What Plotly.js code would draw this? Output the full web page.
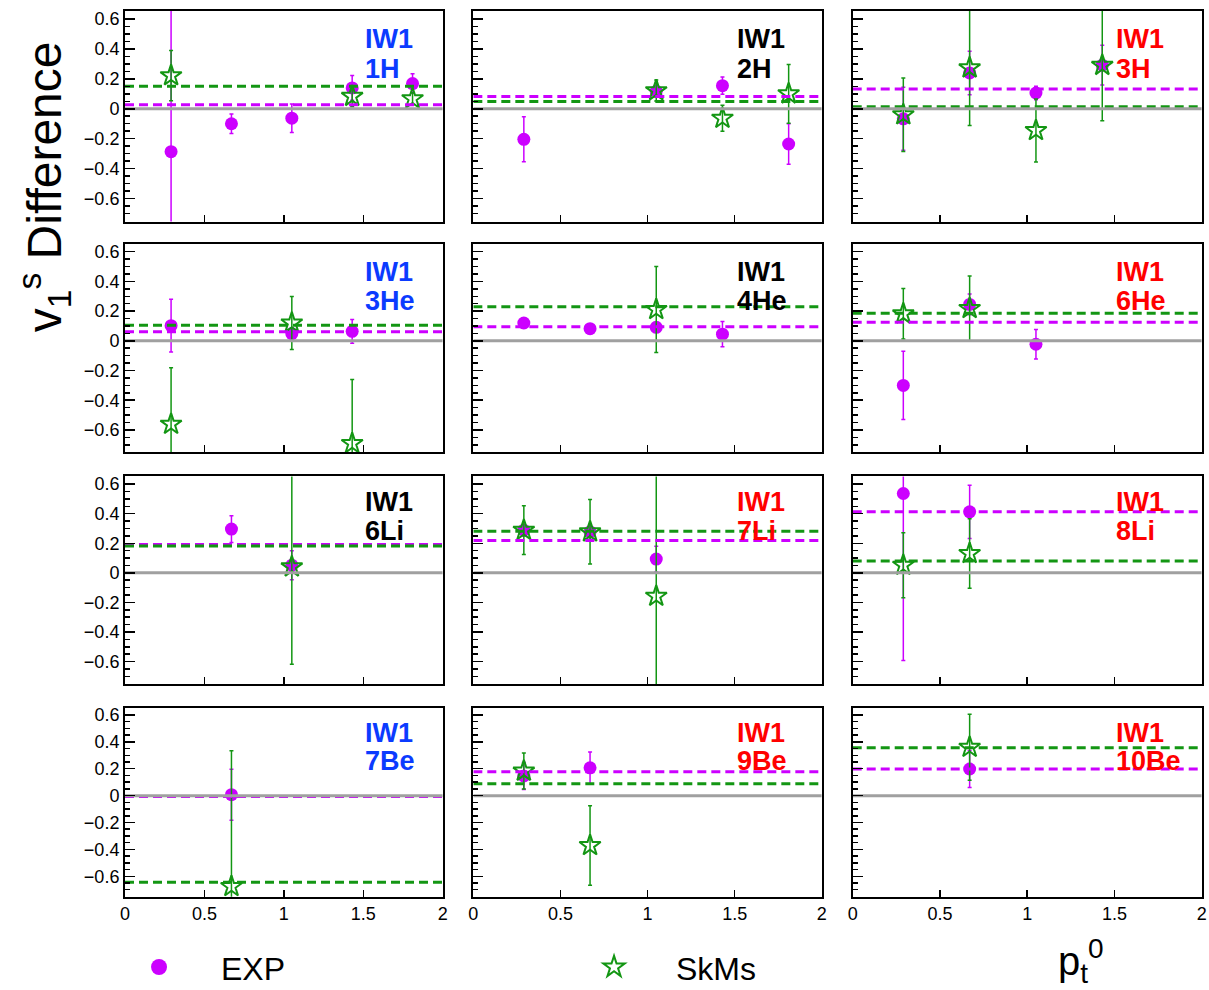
<!DOCTYPE html>
<html><head><meta charset="utf-8">
<script src="https://cdn.plot.ly/plotly-3.0.1.min.js"></script>
<style>html,body{margin:0;padding:0;background:#fff}#chart{width:1209px;height:990px}</style>
</head><body><div id="chart"></div>
<script>
// ---------------- data ----------------
const particles = ['1H','2H','3H','3He','4He','6He','6Li','7Li','8Li','7Be','9Be','10Be'];
const modelTag = 'IW1';
const seriesNames = ['EXP', 'SkMs'];
const ptBins = [0.29, 0.67, 1.05, 1.43, 1.81];
const expValues = [
  [-0.286, -0.100, -0.063, 0.139, 0.168],
  [-0.204, null, 0.116, 0.154, -0.235],
  [-0.067, 0.239, 0.105, 0.291, null],
  [0.102, null, 0.048, 0.064, null],
  [0.120, 0.082, 0.091, 0.045, null],
  [-0.300, 0.245, -0.023, null, null],
  [null, 0.296, 0.052, null, null],
  [0.289, 0.278, 0.093, null, null],
  [0.537, 0.413, null, null, null],
  [null, 0.007, null, null, null],
  [0.146, 0.207, null, null, null],
  [null, 0.198, null, null, null]
];
const expErrors = [
  [1.00, 0.065, 0.095, 0.083, 0.065],
  [0.150, null, 0.040, 0.058, 0.135],
  [0.210, 0.145, 0.045, 0.132, null],
  [0.178, null, 0.040, 0.080, null],
  [0.020, 0.020, 0.030, 0.085, null],
  [0.230, 0.070, 0.099, null, null],
  [null, 0.090, 0.098, null, null],
  [0.040, 0.050, 0.087, null, null],
  [1.130, 0.180, null, null, null],
  [null, 0.190, null, null, null],
  [0.100, 0.118, null, null, null],
  [null, 0.137, null, null, null]
];
const skmsValues = [
  [0.221, null, null, 0.083, 0.067],
  [null, null, 0.121, -0.063, 0.100],
  [-0.040, 0.273, -0.145, 0.290, null],
  [-0.561, null, 0.120, -0.691, null],
  [null, null, 0.211, null, null],
  [0.182, 0.218, null, null, null],
  [null, null, 0.041, null, null],
  [0.289, 0.278, -0.158, null, null],
  [0.052, 0.131, null, null, null],
  [null, -0.676, null, null, null],
  [0.183, -0.371, null, null, null],
  [null, 0.360, null, null, null]
];
const skmsErrors = [
  [0.168, null, null, 0.070, 0.040],
  [null, null, 0.070, 0.087, 0.196],
  [0.245, 0.385, 0.210, 0.370, null],
  [0.380, null, 0.178, 0.430, null],
  [null, null, 0.290, null, null],
  [0.170, 0.218, null, null, null],
  [null, null, 0.660, null, null],
  [0.165, 0.218, 0.850, null, null],
  [0.220, 0.235, null, null, null],
  [null, 1.010, null, null, null],
  [0.134, 0.295, null, null, null],
  [null, 0.245, null, null, null]
];
const expMeans  = [0.027, 0.081, 0.132, 0.061, 0.095, 0.125, 0.192, 0.219, 0.413, -0.007, 0.178, 0.198];
const skmsMeans = [0.150, 0.049, 0.013, 0.105, 0.230, 0.186, 0.181, 0.282, 0.081, -0.644, 0.088, 0.356];

// ---------------- style ----------------
const labelColors = ['#0b3bff','#000000','#ff0000','#0b3bff','#000000','#ff0000','#000000','#ff0000','#ff0000','#0b3bff','#ff0000','#ff0000'];
const EXP_COLOR = '#cc00ff', SKMS_COLOR = '#139613', ZERO_COLOR = '#a0a0a0';
const FONT = 'Liberation Sans, Arial, Helvetica, sans-serif';
const colDom = [[0.1034,0.3662],[0.3915,0.6797],[0.7053,0.9940]];
const rowDom = [[0.77626,0.98889],[0.54293,0.75354],[0.30909,0.51869],[0.09424,0.28485]];
const X_RANGE = [0, 2], Y_RANGE = [-0.752, 0.652];
const LBL_Y = [[0.462, 0.268],[0.462, 0.268],[0.482, 0.282],[0.469, 0.255]];
const PAD = '\u00a0\u00a0\u00a0\u00a0\u2009';

const traces = [];
const layout = {
  width: 1209, height: 990, margin: {l:0, r:0, t:0, b:0, autoexpand: false},
  paper_bgcolor: '#fff', plot_bgcolor: '#fff',
  font: {family: FONT, color: '#000'},
  showlegend: true,
  legend: {orientation:'h', x:0.115, y:0.023, xanchor:'left', yanchor:'middle',
           entrywidth:410, entrywidthmode:'pixels', font:{size:32, family:FONT},
           bgcolor:'rgba(0,0,0,0)', itemsizing:'trace', traceorder:'normal'},
  annotations: []
};

for (let i = 0; i < particles.length; i++) {
  const r = Math.floor(i / 3), c = i % 3, s = i === 0 ? '' : String(i + 1);
  const xa = 'x' + s, ya = 'y' + s;
  layout['xaxis' + s] = {
    domain: colDom[c], anchor: ya, range: X_RANGE, tickmode: 'linear', tick0: 0, dtick: 0.5,
    showticklabels: r === 3, ticks: 'inside', ticklen: 7, tickwidth: 1.5, tickcolor: '#000',
    showline: true, mirror: true, linecolor: '#000', linewidth: 2,
    showgrid: false, zeroline: false, tickfont: {size: 18, family: FONT}, fixedrange: true
  };
  layout['yaxis' + s] = {
    domain: rowDom[r], anchor: xa, range: Y_RANGE, tickmode: 'linear', tick0: 0, dtick: 0.2,
    showticklabels: c === 0, ticks: 'inside', ticklen: 10, tickwidth: 1.5, tickcolor: '#000',
    minor: {tickmode: 'linear', tick0: 0, dtick: 0.05, ticks: 'inside', ticklen: 5, tickwidth: 1.5, tickcolor: '#000', showgrid: false},
    showline: true, mirror: true, linecolor: '#000', linewidth: 2,
    showgrid: false, zeroline: false, tickfont: {size: 18, family: FONT}, fixedrange: true
  };

  traces.push({
    type: 'scatter', mode: 'markers', x: ptBins, y: expValues[i], xaxis: xa, yaxis: ya,
    name: seriesNames[0], legendgroup: 'exp', showlegend: false,
    marker: {symbol: 'circle', size: 13, color: EXP_COLOR},
    error_y: {type: 'data', array: expErrors[i], visible: true, color: EXP_COLOR, thickness: 1.5, width: 2}
  });
  traces.push({
    type: 'scatter', mode: 'markers', x: ptBins, y: skmsValues[i], xaxis: xa, yaxis: ya,
    name: seriesNames[1], legendgroup: 'skms', showlegend: false,
    marker: {symbol: 'star-open', size: 16, color: SKMS_COLOR, line: {color: SKMS_COLOR, width: 2}},
    error_y: {type: 'data', array: skmsErrors[i], visible: true, color: SKMS_COLOR, thickness: 1.5, width: 2}
  });
  traces.push({type:'scatter', mode:'lines', x: X_RANGE, y: [expMeans[i], expMeans[i]], xaxis: xa, yaxis: ya,
    showlegend: false, hoverinfo: 'skip', line: {color: EXP_COLOR, width: 3, dash: '9px,5px'}});
  traces.push({type:'scatter', mode:'lines', x: X_RANGE, y: [skmsMeans[i], skmsMeans[i]], xaxis: xa, yaxis: ya,
    showlegend: false, hoverinfo: 'skip', line: {color: SKMS_COLOR, width: 3, dash: '9px,5px'}});
  traces.push({type:'scatter', mode:'lines', x: X_RANGE, y: [0, 0], xaxis: xa, yaxis: ya,
    showlegend: false, hoverinfo: 'skip', line: {color: ZERO_COLOR, width: 3}});

  [modelTag, particles[i]].forEach((t, k) => {
    layout.annotations.push({
      text: t, xref: xa, yref: ya, x: 1.5, y: LBL_Y[r][k], xanchor: 'left', yanchor: 'middle',
      showarrow: false, font: {family: FONT, size: 27, color: labelColors[i], weight: 'bold'}
    });
  });
}

// legend-only entries (no data points of their own)
traces.push({type:'scatter', mode:'markers', x:[null], y:[null], name: PAD + seriesNames[0],
  legendgroup:'exp', showlegend:true, marker:{symbol:'circle', size:16, color:EXP_COLOR}});
traces.push({type:'scatter', mode:'markers', x:[null], y:[null], name: PAD + seriesNames[1],
  legendgroup:'skms', showlegend:true, marker:{symbol:'star-open', size:16, color:SKMS_COLOR, line:{color:SKMS_COLOR, width:2}}});

layout.annotations.push({
  text: 'v<sub>1</sub><sup>s</sup> Difference', xref: 'paper', yref: 'paper', x: 0.0365, y: 0.811,
  xanchor: 'center', yanchor: 'middle',
  textangle: -90, showarrow: false, font: {family: FONT, size: 48, color: '#000'}
});
layout.annotations.push({
  text: 'p<sub>t</sub><sup>0</sup>', xref: 'paper', yref: 'paper', x: 0.894, y: 0.029,
  xanchor: 'center', yanchor: 'middle',
  showarrow: false, font: {family: FONT, size: 40, color: '#000'}
});

Plotly.newPlot('chart', traces, layout, {staticPlot: true, displayModeBar: false});
</script>
</body></html>
